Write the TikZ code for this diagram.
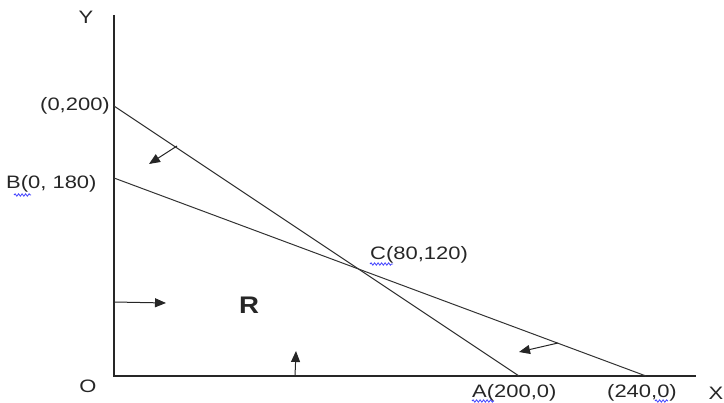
\documentclass[tikz,border=0pt]{standalone}
\usepackage{fontspec}
\setmainfont{Liberation Sans}
\usetikzlibrary{arrows.meta,decorations.pathmorphing}
\newcommand\sx[1]{\scalebox{1.22}[1]{#1}}
\tikzset{
  axis/.style={line width=1.4pt,black!85},
  cline/.style={line width=1pt,black!80},
  dirarrow/.style={line width=1pt,black!85,-{Triangle[length=11pt,width=9pt]}},
  lbl/.style={inner sep=0pt,font=\fontsize{18}{21}\selectfont,text=black!85},
  squig/.style={blue!75!white,line width=0.8pt,decorate,decoration={snake,amplitude=1.2pt,segment length=3.5pt}}
}
\begin{document}
\begin{tikzpicture}[x=1pt,y=-1pt]
\useasboundingbox (0,0) rectangle (724,403);
% axes
\coordinate (O) at (114,376);
\coordinate (Ytop) at (114,15);
\coordinate (Xend) at (696,376);
\draw[axis] (Ytop) -- (O) -- (Xend);
% points
\coordinate (P200) at (114,106);
\coordinate (B) at (114,178);
\coordinate (A) at (519,376);
\coordinate (P240) at (646,376);
\coordinate (C) at (358,269);
\draw[cline] (P200) -- (A);
\draw[cline] (B) -- (P240);
% labels
\node[lbl] (ylab) at (86,17) {\sx{Y}};
\node[lbl,anchor=east] (l200) at (110,106) {\sx{(0,200)}};
\node[lbl,anchor=west] (lB) at (6,184) {\sx{B(0, 180)}};
\node[lbl,anchor=west] (lC) at (370,255) {\sx{C(80,120)}};
\node[lbl,anchor=west] (lA) at (472,393) {\sx{A(200,0)}};
\node[lbl,anchor=west] (l240) at (607,393) {\sx{(240,0)}};
\node[lbl] (xlab) at (716,393) {\sx{X}};
\node[lbl] (olab) at (88,386) {\sx{O}};
\node[lbl,font=\fontsize{24}{28}\selectfont\bfseries] (R) at (249,305) {\scalebox{1.15}[1]{R}};
% direction arrows
\coordinate (a1s) at (177,146);
\coordinate (a1e) at (149,164);
\draw[dirarrow] (a1s) -- (a1e);
\coordinate (a2s) at (114,302);
\coordinate (a2e) at (166,303);
\draw[dirarrow] (a2s) -- (a2e);
\coordinate (a3s) at (295,376);
\coordinate (a3e) at (296,351);
\draw[dirarrow] (a3s) -- (a3e);
\coordinate (a4s) at (558,343);
\coordinate (a4e) at (519,352);
\draw[dirarrow] (a4s) -- (a4e);
% spell-check squiggles
\coordinate (s1a) at (14,195); \coordinate (s1b) at (31,195);
\draw[squig] (s1a) -- (s1b);
\coordinate (s2a) at (370,264); \coordinate (s2b) at (393,264);
\draw[squig] (s2a) -- (s2b);
\coordinate (s3a) at (472,401); \coordinate (s3b) at (494,401);
\draw[squig] (s3a) -- (s3b);
\coordinate (s4a) at (655,401); \coordinate (s4b) at (668,401);
\draw[squig] (s4a) -- (s4b);
\end{tikzpicture}
\end{document}
